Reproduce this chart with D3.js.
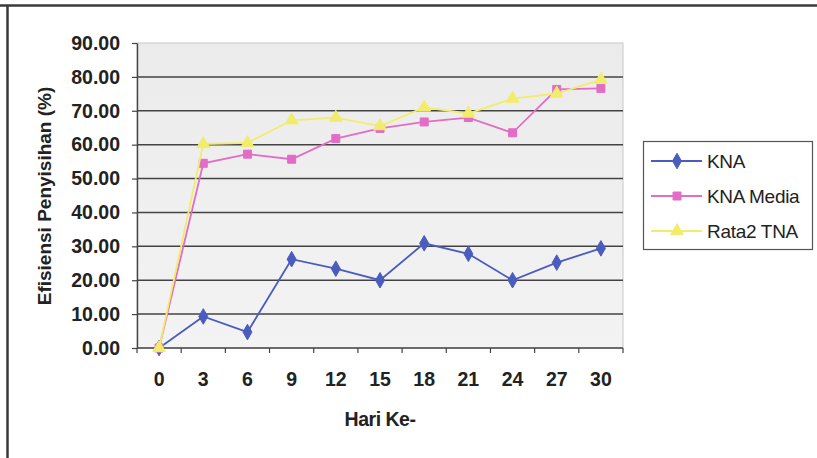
<!DOCTYPE html>
<html>
<head>
<meta charset="utf-8">
<script src="https://cdn.jsdelivr.net/npm/d3@7/dist/d3.min.js"></script>
<style>
  html, body { margin: 0; padding: 0; background: #fff; }
  svg { display: block; font-family: Arial, "Liberation Sans", sans-serif; }
</style>
</head>
<body>
<svg id="chart" width="817" height="458"></svg>
<script>
// Day of observation (x categories)
const days = [0, 3, 6, 9, 12, 15, 18, 21, 24, 27, 30];
// Removal efficiency (%) per series
const kna      = [0, 9.3, 4.7, 26.2, 23.4, 20.0, 30.9, 27.8, 20.0, 25.2, 29.4];
const knaMedia = [0, 54.5, 57.2, 55.7, 61.8, 64.8, 66.7, 68.0, 63.5, 76.3, 76.6];
const rata2Tna = [0, 60.2, 60.5, 67.2, 68.0, 65.5, 71.0, 69.2, 73.6, 75.1, 79.2];
const seriesNames = ["KNA", "KNA Media", "Rata2 TNA"];
const yTicks = [0, 10, 20, 30, 40, 50, 60, 70, 80, 90];

const seriesList = [
  { name: seriesNames[0], values: kna,      color: "#4a5cbe", marker: d3.symbolDiamond,  size: 70 },
  { name: seriesNames[1], values: knaMedia, color: "#e26cc6", marker: d3.symbolSquare,   size: 64 },
  { name: seriesNames[2], values: rata2Tna, color: "#f2ec6c", marker: d3.symbolTriangle, size: 70 }
];

const svg = d3.select("#chart");
const plot = { left: 137, right: 623, top: 43, bottom: 348 };

// Outer frame (top and left edges visible)
svg.append("line").attr("x1", 0).attr("x2", 817).attr("y1", 5.5).attr("y2", 5.5)
  .attr("stroke", "#3a3a3a").attr("stroke-width", 2.5);
svg.append("line").attr("x1", 7.5).attr("x2", 7.5).attr("y1", 5).attr("y2", 458)
  .attr("stroke", "#3a3a3a").attr("stroke-width", 2.5);

const x = d3.scaleBand().domain(days).range([plot.left, plot.right]);
const y = d3.scaleLinear().domain([0, 90]).range([plot.bottom, plot.top]);

// Plot area background
const defs = svg.append("defs");
const grad = defs.append("linearGradient").attr("id", "bg").attr("x1", 0).attr("y1", 0).attr("x2", 0).attr("y2", 1);
grad.append("stop").attr("offset", "0%").attr("stop-color", "#ebebeb");
grad.append("stop").attr("offset", "100%").attr("stop-color", "#f3f3f3");
svg.append("rect")
  .attr("x", plot.left).attr("y", plot.top)
  .attr("width", plot.right - plot.left).attr("height", plot.bottom - plot.top)
  .attr("fill", "url(#bg)").attr("stroke", "#c8c8c8").attr("stroke-width", 1);

// Horizontal gridlines
svg.append("g").selectAll("line").data(yTicks.filter(t => t > 0 && t < 90)).join("line")
  .attr("x1", plot.left).attr("x2", plot.right)
  .attr("y1", d => y(d)).attr("y2", d => y(d))
  .attr("stroke", "#434343").attr("stroke-width", 1.5);

// Y axis
const yAxis = svg.append("g").attr("transform", `translate(${plot.left},0)`)
  .call(d3.axisLeft(y).tickValues(yTicks).tickFormat(d3.format(".2f")).tickSizeInner(5).tickSizeOuter(0).tickPadding(12));
yAxis.select(".domain").attr("stroke", "#444").attr("stroke-width", 1.4);
yAxis.selectAll(".tick line").attr("stroke", "#444").attr("stroke-width", 1.2);
yAxis.selectAll("text").attr("font-size", 19.5).attr("font-weight", "bold").attr("fill", "#222");

// X axis: ticks at category boundaries, labels at category centres
const xAxisG = svg.append("g").attr("transform", `translate(0,${plot.bottom})`);
xAxisG.append("line").attr("x1", plot.left).attr("x2", plot.right)
  .attr("stroke", "#444").attr("stroke-width", 1.4);
const bounds = days.map(d => x(d)).concat([x(days[days.length - 1]) + x.bandwidth()]);
xAxisG.selectAll(".tk").data(bounds).join("line").attr("class", "tk")
  .attr("x1", d => d).attr("x2", d => d).attr("y1", 0).attr("y2", 5)
  .attr("stroke", "#444").attr("stroke-width", 1.2);
xAxisG.selectAll("text").data(days).join("text")
  .attr("x", d => x(d) + x.bandwidth() / 2).attr("y", 37.5)
  .attr("text-anchor", "middle").attr("font-size", 19.5).attr("font-weight", "bold").attr("fill", "#222")
  .text(d => d);

// Axis titles
svg.append("text").attr("x", 380).attr("y", 426).attr("text-anchor", "middle")
  .attr("font-size", 19.5).attr("font-weight", "bold").attr("letter-spacing", -0.5).attr("fill", "#222").text("Hari Ke-");
svg.append("text").attr("transform", "translate(51,196) rotate(-90)").attr("text-anchor", "middle")
  .attr("font-size", 19).attr("font-weight", "bold").attr("fill", "#222").text("Efisiensi Penyisihan (%)");

// Series lines and markers
const cx = i => x(days[i]) + x.bandwidth() / 2;
const line = d3.line().x((d, i) => cx(i)).y(d => y(d));
seriesList.forEach(s => {
  const g = svg.append("g");
  g.append("path").datum(s.values).attr("d", line)
    .attr("fill", "none").attr("stroke", s.color).attr("stroke-width", 1.8);
  g.selectAll("path.m").data(s.values).join("path").attr("class", "m")
    .attr("d", d3.symbol().type(s.marker).size(s.size))
    .attr("transform", (d, i) => `translate(${cx(i)},${y(d)})`)
    .attr("fill", s.color).attr("stroke", s.color).attr("stroke-width", 1);
});

// Legend
const legend = svg.append("g");
legend.append("rect").attr("x", 643.5).attr("y", 141.5).attr("width", 169).attr("height", 108)
  .attr("fill", "#fff").attr("stroke", "#555").attr("stroke-width", 1.2);
seriesList.forEach((s, i) => {
  const ly = 161 + i * 35;
  legend.append("line").attr("x1", 651).attr("x2", 702).attr("y1", ly).attr("y2", ly)
    .attr("stroke", s.color).attr("stroke-width", 1.8);
  legend.append("path").attr("d", d3.symbol().type(s.marker).size(s.size)())
    .attr("transform", `translate(677,${ly})`).attr("fill", s.color).attr("stroke", s.color);
  legend.append("text").attr("x", 707).attr("y", ly + 7).attr("font-size", 19)
    .attr("letter-spacing", -0.3).attr("fill", "#222").text(s.name);
});
</script>
</body>
</html>
